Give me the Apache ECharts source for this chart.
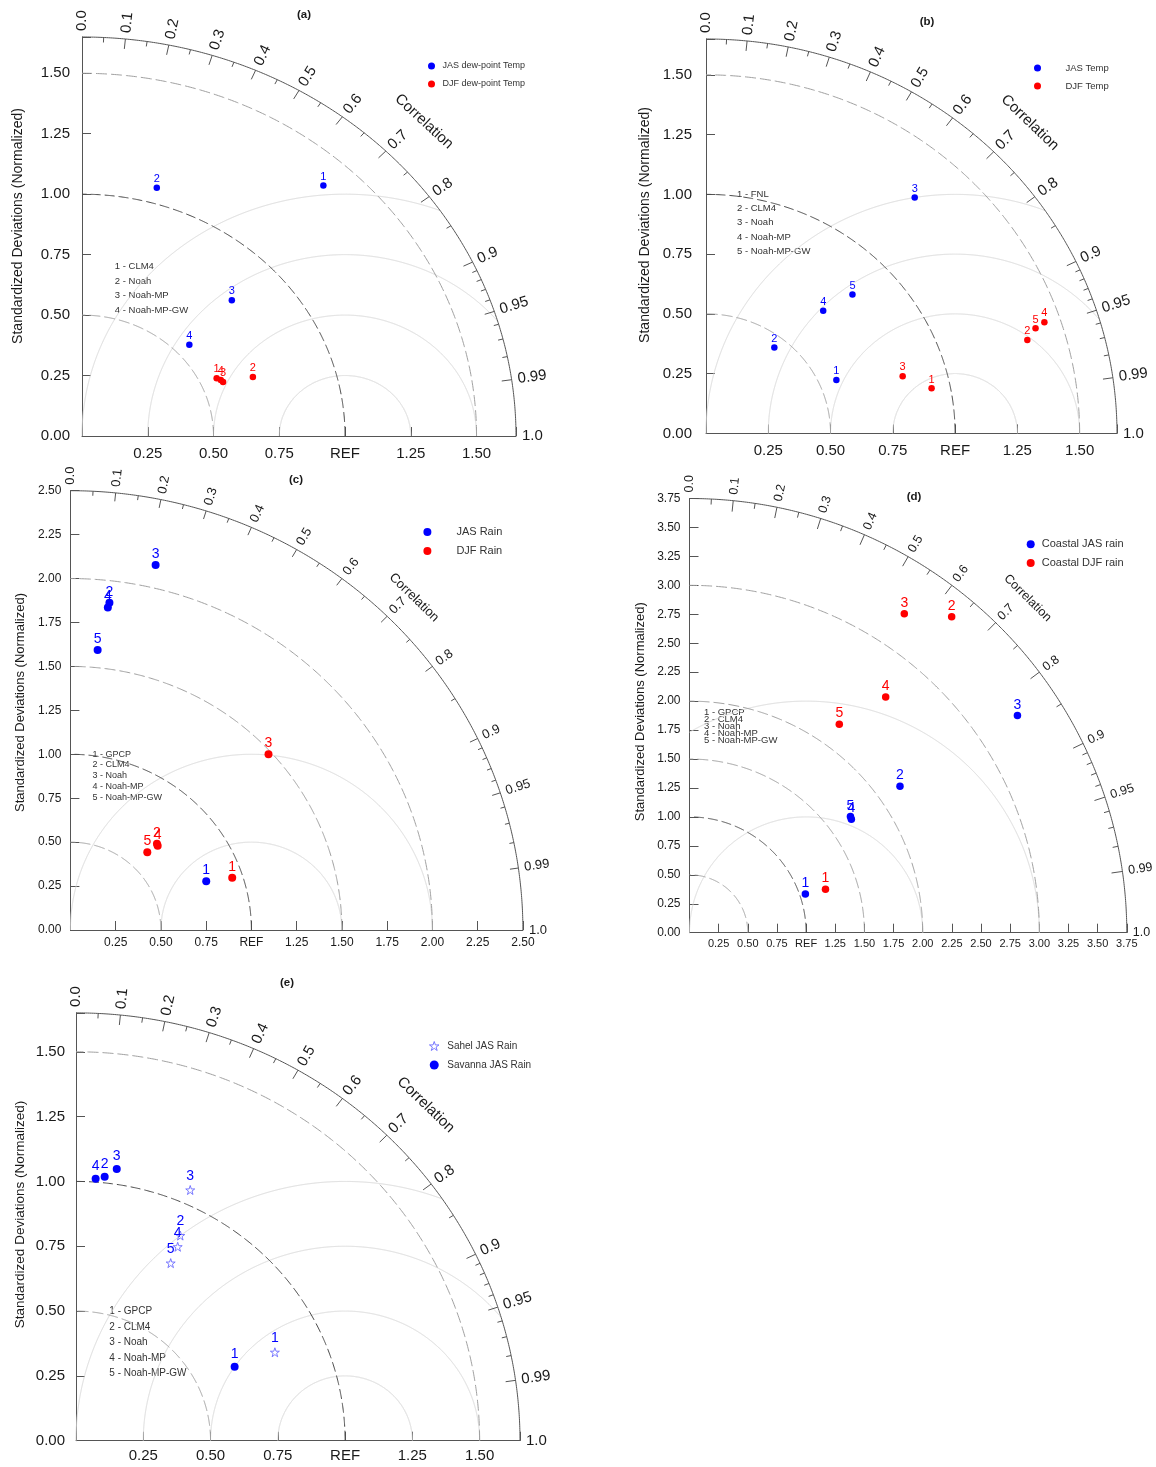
<!DOCTYPE html>
<html>
<head>
<meta charset="utf-8">
<title>Taylor diagrams</title>
<script src="https://cdn.jsdelivr.net/npm/echarts@6/dist/echarts.min.js"></script>
<style>
  html, body { margin: 0; padding: 0; background: #fff; }
  #chart { width: 1156px; height: 1467px; }
</style>
</head>
<body>
<div id="chart"></div>
<script>
// ---------------- data: normalised standard deviation and correlation ----------------
// (a) dew-point temperature
const modelsA    = ['CLM4', 'Noah', 'Noah-MP', 'Noah-MP-GW'];
const jasDewStd  = [1.384, 1.065, 0.800, 0.556];
const jasDewCorr = [0.663, 0.267, 0.712, 0.734];
const djfDewStd  = [0.565, 0.694, 0.581, 0.576];
const djfDewCorr = [0.906, 0.936, 0.923, 0.916];

// (b) temperature
const modelsB     = ['FNL', 'CLM4', 'Noah', 'Noah-MP', 'Noah-MP-GW'];
const jasTempStd  = [0.569, 0.452, 1.295, 0.696, 0.827];
const jasTempCorr = [0.920, 0.607, 0.647, 0.676, 0.711];
const djfTempStd  = [0.925, 1.348, 0.825, 1.436, 1.394];
const djfTempCorr = [0.979, 0.957, 0.957, 0.946, 0.949];

// (c) rain
const modelsRain  = ['GPCP', 'CLM4', 'Noah', 'Noah-MP', 'Noah-MP-GW'];
const jasRainStd  = [0.800, 1.875, 2.130, 1.847, 1.601];
const jasRainCorr = [0.938, 0.115, 0.221, 0.112, 0.094];
const djfRainStd  = [0.942, 0.685, 1.483, 0.680, 0.613];
const djfRainCorr = [0.949, 0.698, 0.738, 0.709, 0.693];

// (d) coastal rain
const coastJasStd  = [1.048, 2.204, 3.380, 1.699, 1.706];
const coastJasCorr = [0.948, 0.819, 0.832, 0.817, 0.809];
const coastDjfStd  = [1.225, 3.535, 3.313, 2.641, 2.211];
const coastDjfCorr = [0.952, 0.636, 0.556, 0.637, 0.581];

// (e) Sahel / Savanna JAS rain
const sahelStd    = [0.814, 0.881, 1.056, 0.838, 0.770];
const sahelCorr   = [0.908, 0.440, 0.402, 0.451, 0.457];
const savannaStd  = [0.655, 1.024, 1.059, 1.013];
const savannaCorr = [0.900, 0.104, 0.143, 0.072];

// ---------------- tick values ----------------
const corrTicks      = [0, 0.1, 0.2, 0.3, 0.4, 0.5, 0.6, 0.7, 0.8, 0.9, 0.95, 0.99, 1.0];
const corrMinorTicks = [0.05, 0.15, 0.25, 0.35, 0.45, 0.55, 0.65, 0.75, 0.85,
                        0.91, 0.92, 0.93, 0.94, 0.96, 0.97, 0.98];
const stdTickStep = 0.25;

// ---------------- styling ----------------
const FONT = '"Liberation Sans", Arial, Helvetica, sans-serif';
const BLUE = '#0000ff', RED = '#ff0000', STAR = '#6b6bff';
const TXT = '#1a1a1a';
const STAR_PATH = 'path://M50 2 L61.8 36.2 L97.6 36.2 L68.6 57.4 L79.4 91.6 L50 70.4 L20.6 91.6 L31.4 57.4 L2.4 36.2 L38.2 36.2 Z';

const panels = [
  { title: '(a)', titleXY: [304, 15],
    grid: { left: 82, top: 37, width: 434, height: 399 }, rmax: 1.65,
    stdArcs: [0.5, 1.5], rmsArcs: [0.25, 0.5, 0.75, 1.0],
    xFont: 15, yFont: 15, xMargin: 10, yMargin: 12, corrFont: 15, tickLen: [10, 5],
    corrTitle: [1.30, 1.30], nameXY: [18, 226], nameFont: 14,
    ptFont: 11, ptDist: 0,
    sets: [
      { name: 'JAS dew-point Temp', std: jasDewStd, corr: jasDewCorr, color: BLUE, size: 6.5 },
      { name: 'DJF dew-point Temp', std: djfDewStd, corr: djfDewCorr, color: RED, size: 6.5 }
    ],
    legend: { cx: 434, cy: 66, w: 12, h: 7, lh: 10, step: 18, font: 9 },
    models: modelsA, listXY: [114.8, 266.7], listStep: 14.45, listFont: 9.5 },

  { title: '(b)', titleXY: [927, 22],
    grid: { left: 706, top: 39, width: 411, height: 394.4 }, rmax: 1.65,
    stdArcs: [0.5, 1.5], rmsArcs: [0.25, 0.5, 0.75, 1.0],
    xFont: 15, yFont: 15, xMargin: 10, yMargin: 14, corrFont: 15, tickLen: [10, 5],
    corrTitle: [1.30, 1.30], nameXY: [645, 225], nameFont: 14,
    ptFont: 11, ptDist: 0,
    sets: [
      { name: 'JAS Temp', std: jasTempStd, corr: jasTempCorr, color: BLUE, size: 6.5 },
      { name: 'DJF Temp', std: djfTempStd, corr: djfTempCorr, color: RED, size: 6.5 }
    ],
    legend: { cx: 1057, cy: 68, w: 46, h: 7, lh: 10, step: 18, font: 9.5 },
    models: modelsB, listXY: [737, 194], listStep: 14.4, listFont: 9.5 },

  { title: '(c)', titleXY: [296, 480],
    grid: { left: 70.4, top: 490.7, width: 452.5, height: 439.3 }, rmax: 2.5,
    stdArcs: [0.5, 1.5, 2.0], rmsArcs: [0.5, 1.0],
    xFont: 12, yFont: 12, xMargin: 7, yMargin: 9, corrFont: 13, tickLen: [8.5, 4.5],
    corrTitle: [1.898, 1.892], nameXY: [20.4, 702.5], nameFont: 13,
    ptFont: 14, ptDist: 0,
    sets: [
      { name: 'JAS Rain', std: jasRainStd, corr: jasRainCorr, color: BLUE, size: 8 },
      { name: 'DJF Rain', std: djfRainStd, corr: djfRainCorr, color: RED, size: 8 }
    ],
    legend: { cx: 447.4, cy: 532, w: 48, h: 8, lh: 12, step: 19, font: 11 },
    models: modelsRain, listXY: [92.6, 754.3], listStep: 10.7, listFont: 9 },

  { title: '(d)', titleXY: [914, 497],
    grid: { left: 689.5, top: 498.5, width: 437.3, height: 434.2 }, rmax: 3.75,
    stdArcs: [0.5, 1.5, 2.0, 3.0], rmsArcs: [1.0, 2.0],
    xFont: 11, yFont: 12, xMargin: 6, yMargin: 9, corrFont: 12.5, tickLen: [11, 5.5],
    corrTitle: [2.899, 2.890], nameXY: [640.5, 711.7], nameFont: 13,
    ptFont: 14, ptDist: 0,
    sets: [
      { name: 'Coastal JAS rain', std: coastJasStd, corr: coastJasCorr, color: BLUE, size: 7.5 },
      { name: 'Coastal DJF rain', std: coastDjfStd, corr: coastDjfCorr, color: RED, size: 7.5 }
    ],
    legend: { cx: 1032.7, cy: 544.3, w: 12, h: 8, lh: 12, step: 18.7, font: 11 },
    models: modelsRain, listXY: [704, 712], listStep: 7.2, listFont: 9.5 },

  { title: '(e)', titleXY: [287, 983],
    grid: { left: 76, top: 1012.9, width: 444, height: 427.8 }, rmax: 1.65,
    stdArcs: [0.5, 1.5], rmsArcs: [0.25, 0.5, 0.75, 1.0],
    xFont: 15, yFont: 15, xMargin: 8, yMargin: 11, corrFont: 15, tickLen: [10, 5],
    corrTitle: [1.30, 1.295], nameXY: [20.4, 1214.5], nameFont: 13.5,
    ptFont: 14, ptDist: 2,
    sets: [
      { name: 'Sahel JAS Rain', std: sahelStd, corr: sahelCorr, color: BLUE, size: 9, star: true },
      { name: 'Savanna JAS Rain', std: savannaStd, corr: savannaCorr, color: BLUE, size: 8 }
    ],
    legend: { cx: 437, cy: 1046, w: 16, h: 9, lh: 12, step: 19, font: 10 },
    models: modelsRain, listXY: [109.3, 1311.3], listStep: 15.6, listFont: 10 }
];

// ---------------- helpers ----------------
function taylorXY(std, corr) {
  return std.map((s, i) => [s * corr[i], s * Math.sqrt(1 - corr[i] * corr[i]), i + 1]);
}
const onStep = v => Math.abs(v / stdTickStep - Math.round(v / stdTickStep)) < 1e-6;
const corrText = c => (c === 0 ? '0.0' : c === 1 ? '1.0' : String(c));

// Draws the Taylor frame: RMS arcs, std arcs, outer correlation arc, its ticks and labels
function frameRenderer(P) {
  return function (params, api) {
    const o = api.coord([0, 0]);
    const u = api.coord([1, 1]);
    const kx = u[0] - o[0], ky = o[1] - u[1];
    const toPx = (x, y) => [o[0] + x * kx, o[1] - y * ky];
    const R = P.rmax;
    const kids = [];
    const poly = (pts, stroke, dash) => kids.push({
      type: 'polyline', silent: true, shape: { points: pts },
      style: { stroke: stroke, fill: 'none', lineWidth: 1, lineDash: dash || null }
    });
    const quarter = r => {
      const pts = [];
      for (let k = 0; k <= 360; k++) {
        const a = (Math.PI / 2) * k / 360;
        pts.push(toPx(r * Math.cos(a), r * Math.sin(a)));
      }
      return pts;
    };
    // centred RMS-difference arcs around REF
    P.rmsArcs.forEach(rr => {
      const pts = [];
      for (let k = 0; k <= 1440; k++) {
        const ph = Math.PI * k / 1440;
        const x = 1 + rr * Math.cos(ph), y = rr * Math.sin(ph);
        if (x >= 0 && x * x + y * y <= R * R) pts.push(toPx(x, y));
      }
      poly(pts, '#dadada');
    });
    // standard deviation arcs
    P.stdArcs.forEach(r => poly(quarter(r), '#a0a0a0', [11, 4]));
    poly(quarter(1.0), '#4a4a4a', [10, 4]);
    // outer arc
    poly(quarter(R), '#555');
    // correlation ticks, pointing inwards
    const tick = (c, len) => {
      const p = toPx(R * c, R * Math.sqrt(1 - c * c));
      let dx = o[0] - p[0], dy = o[1] - p[1];
      const n = Math.hypot(dx, dy); dx /= n; dy /= n;
      kids.push({ type: 'line', silent: true,
        shape: { x1: p[0], y1: p[1], x2: p[0] + dx * len, y2: p[1] + dy * len },
        style: { stroke: '#555', lineWidth: 1 } });
    };
    corrTicks.filter(c => c > 0 && c < 1).forEach(c => tick(c, P.tickLen[0]));
    corrMinorTicks.forEach(c => tick(c, P.tickLen[1]));
    // correlation labels, written along the radial direction
    corrTicks.forEach(c => {
      const p = toPx(R * c, R * Math.sqrt(1 - c * c));
      let dx = p[0] - o[0], dy = p[1] - o[1];
      const n = Math.hypot(dx, dy); dx /= n; dy /= n;
      kids.push({ type: 'text', silent: true,
        x: p[0] + dx * 6, y: p[1] + dy * 6, rotation: Math.atan2(-dy, dx),
        style: { text: corrText(c), font: P.corrFont + 'px ' + FONT, fill: TXT,
                 align: 'left', verticalAlign: 'middle' } });
    });
    const ct = toPx(P.corrTitle[0], P.corrTitle[1]);
    kids.push({ type: 'text', silent: true, x: ct[0], y: ct[1],
      rotation: -Math.atan2(ky, kx),
      style: { text: 'Correlation', font: P.corrFont + 'px ' + FONT, fill: TXT,
               align: 'center', verticalAlign: 'middle' } });
    return { type: 'group', children: kids };
  };
}

// ---------------- option ----------------
const grids = [], xAxes = [], yAxes = [], legends = [], series = [], graphics = [];

panels.forEach((P, i) => {
  grids.push(Object.assign({ containLabel: false, outerBoundsMode: 'none' }, P.grid));

  const axisCommon = {
    gridIndex: i, type: 'value', min: 0, max: P.rmax, interval: stdTickStep,
    axisLine: { show: true, onZero: false, lineStyle: { color: '#555', width: 1 } },
    axisTick: { show: true, inside: true, length: 9, lineStyle: { color: '#555', width: 1 } },
    splitLine: { show: false }
  };
  xAxes.push(Object.assign({}, axisCommon, {
    position: 'bottom',
    axisLabel: { margin: P.xMargin, fontSize: P.xFont, fontFamily: FONT, color: TXT,
      formatter: v => (!onStep(v) || v < 1e-9) ? '' : (Math.abs(v - 1) < 1e-9 ? 'REF' : v.toFixed(2)) }
  }));
  yAxes.push(Object.assign({}, axisCommon, {
    position: 'left',
    axisLabel: { margin: P.yMargin, fontSize: P.yFont, fontFamily: FONT, color: TXT,
      formatter: v => onStep(v) ? v.toFixed(2) : '' }
  }));

  series.push({
    type: 'custom', xAxisIndex: i, yAxisIndex: i, coordinateSystem: 'cartesian2d',
    clip: false, silent: true, z: 1, data: [[0, 0]],
    renderItem: frameRenderer(P)
  });

  P.sets.forEach(S => {
    series.push({
      type: 'scatter', name: S.name, xAxisIndex: i, yAxisIndex: i, z: 3,
      data: taylorXY(S.std, S.corr),
      symbol: S.star ? STAR_PATH : 'circle',
      symbolSize: S.size,
      itemStyle: S.star
        ? { color: 'rgba(0,0,0,0)', borderColor: STAR, borderWidth: 0.9, opacity: 1 }
        : { color: S.color, opacity: 1 },
      label: { show: true, position: 'top', distance: P.ptDist,
        color: S.color, fontSize: P.ptFont, fontFamily: FONT,
        formatter: p => String(p.value[2]) },
      emphasis: { disabled: true }
    });
  });

  const L = P.legend;
  legends.push({
    orient: 'vertical', left: L.cx - L.w / 2, top: L.cy - L.lh / 2, padding: 0,
    itemWidth: L.w, itemHeight: L.h, itemGap: L.step - L.lh, selectedMode: false,
    textStyle: { fontSize: L.font, fontFamily: FONT, color: '#333', lineHeight: L.lh },
    data: P.sets.map(S => S.star
      ? { name: S.name, itemStyle: { color: 'rgba(0,0,0,0)', borderColor: STAR, borderWidth: 0.9, opacity: 1 } }
      : { name: S.name, itemStyle: { opacity: 1 } })
  });

  // panel letter
  graphics.push({ type: 'text', silent: true, x: P.titleXY[0], y: P.titleXY[1],
    style: { text: P.title, font: 'bold 11.5px ' + FONT, fill: TXT, align: 'center', verticalAlign: 'middle' } });
  // y-axis title
  graphics.push({ type: 'text', silent: true, x: P.nameXY[0], y: P.nameXY[1], rotation: Math.PI / 2,
    style: { text: 'Standardized Deviations (Normalized)', font: P.nameFont + 'px ' + FONT, fill: TXT,
             align: 'center', verticalAlign: 'middle' } });
  // model key
  P.models.forEach((m, k) => {
    graphics.push({ type: 'text', silent: true, x: P.listXY[0], y: P.listXY[1] + k * P.listStep,
      style: { text: (k + 1) + ' - ' + m, font: P.listFont + 'px ' + FONT, fill: '#333',
               align: 'left', verticalAlign: 'middle' } });
  });
});

const chart = echarts.init(document.getElementById('chart'), null, { renderer: 'canvas', width: 1156, height: 1467 });
chart.setOption({
  animation: false,
  backgroundColor: '#ffffff',
  grid: grids,
  xAxis: xAxes,
  yAxis: yAxes,
  legend: legends,
  graphic: { elements: graphics },
  series: series
});
</script>
</body>
</html>
